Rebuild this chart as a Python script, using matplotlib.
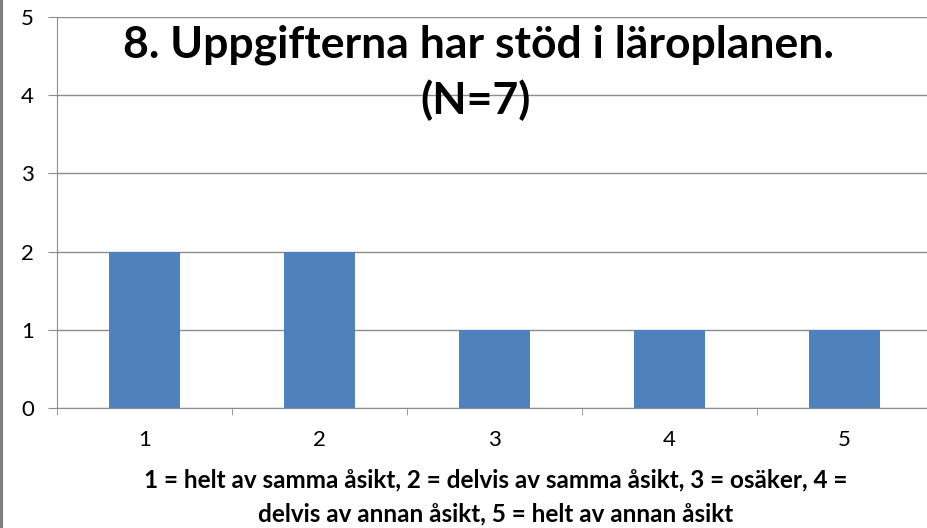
import matplotlib.pyplot as plt
from matplotlib.lines import Line2D

categories = ["1", "2", "3", "4", "5"]
counts = [2, 2, 1, 1, 1]
y_ticks = [0, 1, 2, 3, 4, 5]

title_line1 = "8. Uppgifterna har stöd i läroplanen."
title_line2 = "(N=7)"
xlabel_line1 = "1 = helt av samma åsikt, 2 = delvis av samma åsikt, 3 = osäker, 4 ="
xlabel_line2 = "delvis av annan åsikt, 5 = helt av annan åsikt"

plt.rcParams['font.family'] = ['Lato', 'DejaVu Sans']

fig = plt.figure(figsize=(9.28, 5.28), dpi=100)
ax = fig.add_axes([57 / 928, 1 - 408 / 528, 875 / 928, 391 / 528])

x = list(range(len(categories)))
ax.bar(x, counts, width=0.41, color='#4F81BD', zorder=3)

ax.set_xlim(-0.5, len(categories) - 0.5)
ax.set_ylim(0, 5)
ax.set_yticks(y_ticks)
ax.set_xticks(x)
ax.set_xticklabels(categories)
ax.set_xticks([i + 0.5 for i in range(-1, len(categories))], minor=True)

ax.grid(axis='y', color='#8c8c8c', linewidth=1, zorder=0)
ax.tick_params(axis='y', which='major', length=6.5, color='#8c8c8c', labelsize=16, pad=10)
ax.tick_params(axis='x', which='major', length=0, labelsize=16, pad=16)
ax.tick_params(axis='x', which='minor', length=5, color='#8c8c8c')

for side in ['top', 'right']:
    ax.spines[side].set_visible(False)
ax.spines['left'].set_color('#8c8c8c')
ax.spines['bottom'].set_color('#8c8c8c')

fig.text(478 / 928, 1 - 45 / 528, title_line1, ha='center', va='center',
         fontsize=32, fontweight='bold')
fig.text(476 / 928, 1 - 100 / 528, title_line2, ha='center', va='center',
         fontsize=32, fontweight='bold')
fig.text(496 / 928, 1 - 480 / 528, xlabel_line1, ha='center', va='center',
         fontsize=17.5, fontweight='bold')
fig.text(496 / 928, 1 - 514 / 528, xlabel_line2, ha='center', va='center',
         fontsize=17.5, fontweight='bold')

# grey frame line on the left edge
fig.add_artist(Line2D([0.0015, 0.0015], [0, 1], transform=fig.transFigure,
                      color='#808080', linewidth=3))

fig.savefig('out.png', dpi=100)
